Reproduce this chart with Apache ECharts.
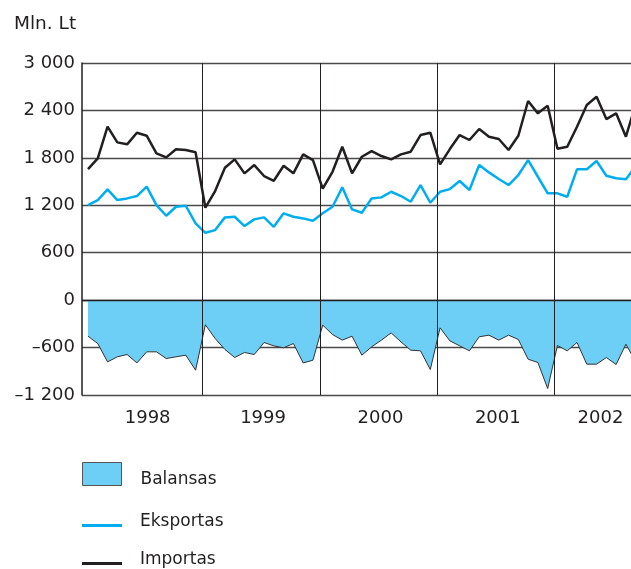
<!DOCTYPE html>
<html>
<head>
<meta charset="utf-8">
<script src="https://cdn.jsdelivr.net/npm/echarts@6/dist/echarts.min.js"></script>
<style>
html,body{margin:0;padding:0;background:#fff;}
#c{width:631px;height:569px;}
</style>
</head>
<body>
<div id="c"></div>
<script>
const years = ['1998', '1999', '2000', '2001', '2002'];
const months = [];
for (const y of years) for (let m = 1; m <= 12; m++) months.push(y + '-' + String(m).padStart(2, '0'));
months.length = 57; // Jan 1998 – Sep 2002

const eksportas = [
  1203, 1266, 1401, 1266, 1287, 1317, 1435, 1203, 1068, 1182, 1194, 971,
  852, 886, 1047, 1055, 937, 1022, 1047, 928, 1098, 1055, 1034, 1004,
  1100, 1182, 1427, 1148, 1106, 1287, 1300, 1371, 1317, 1245, 1456, 1232,
  1371, 1405, 1507, 1393, 1709, 1616, 1532, 1456, 1583, 1772, 1561, 1351,
  1351, 1308, 1655, 1655, 1760, 1574, 1541, 1528, 1700
];
const importas = [
  1658, 1794, 2194, 1996, 1971, 2118, 2080, 1857, 1806, 1908, 1899, 1870,
  1169, 1380, 1675, 1781, 1604, 1709, 1570, 1510, 1700, 1604, 1844, 1772,
  1410, 1624, 1941, 1604, 1814, 1886, 1823, 1781, 1844, 1878, 2089, 2118,
  1718, 1911, 2089, 2026, 2165, 2068, 2038, 1899, 2080, 2519, 2363, 2460,
  1915, 1941, 2194, 2469, 2574, 2291, 2363, 2068, 2480
];
const balansas = [
  -456, -549, -781, -717, -688, -794, -654, -654, -739, -717, -696, -886,
  -312, -485, -624, -726, -662, -688, -536, -578, -603, -549, -794, -760,
  -316, -435, -506, -456, -696, -591, -506, -414, -528, -633, -641, -878,
  -350, -515, -578, -641, -464, -443, -506, -443, -498, -747, -789, -1118,
  -574, -641, -536, -810, -810, -726, -814, -557, -780
];
// where each year's label sits, in months from Jan 1998
const yearLabelPos = [6.1, 17.9, 29.9, 41.9, 52.4];

const FONT = '"DejaVu Sans", sans-serif';
const pairs = arr => arr.map((v, i) => [i, v]);
const yearLines = years.slice(1).map((y, i) => ({ xAxis: 12 * (i + 1) - 0.3 }));

const fmtY = v => {
  const s = String(Math.abs(v)).replace(/\B(?=(\d{3})+(?!\d))/g, ' ');
  return (v < 0 ? '\u2013' : '') + s;
};
const yearOf = v => {
  let best = 0;
  yearLabelPos.forEach((p, i) => { if (Math.abs(p - v) < Math.abs(yearLabelPos[best] - v)) best = i; });
  return years[best];
};

// legend icons: the drawn part sits in a taller box so the label lines up like the original
const boxIcon = 'path://M0,0H39V23H0Z M0,35L0.01,35Z';
const lineIcon = 'path://M0,0L0.01,0Z M0,10H40V13H0Z M0,16L0.01,16Z';
const legendText = { fontFamily: FONT, fontSize: 17, color: '#231f20', lineHeight: 16 };

const chart = echarts.init(document.getElementById('c'), null, { renderer: 'canvas' });
chart.setOption({
  animation: false,
  backgroundColor: '#ffffff',
  title: {
    text: 'Mln. Lt', left: 9, top: 10,
    textStyle: { fontFamily: FONT, fontSize: 18.5, fontWeight: 'normal', color: '#231f20' }
  },
  grid: { left: 82, right: 0, top: 63, bottom: 174 },
  xAxis: {
    type: 'value', min: -0.613, max: 55.52,
    axisLine: { show: false, onZero: false }, axisTick: { show: false }, splitLine: { show: false },
    axisLabel: {
      customValues: yearLabelPos,
      formatter: v => yearOf(v),
      margin: 14, fontFamily: FONT, fontSize: 18, color: '#231f20'
    }
  },
  yAxis: {
    type: 'value', min: -1200, max: 3000, interval: 600,
    axisLine: { show: true, onZero: false, lineStyle: { color: '#231f20', width: 1.5 } },
    axisTick: { show: false },
    splitLine: { show: true, lineStyle: { color: '#4a4a4a', width: 1.4 } },
    axisLabel: { formatter: fmtY, margin: 7, fontFamily: FONT, fontSize: 18, color: '#231f20' }
  },
  legend: [
    {
      data: ['Balansas'], orient: 'vertical', left: 82, top: 462, padding: 0,
      itemWidth: 39, itemHeight: 35, icon: boxIcon,
      itemStyle: { color: '#6dcff6', borderColor: '#555', borderWidth: 1 },
      textStyle: Object.assign({ padding: [0, 0, 0, 14] }, legendText)
    },
    {
      data: ['Eksportas'], orient: 'vertical', left: 82, top: 513.5, padding: 0,
      itemWidth: 40, itemHeight: 16, icon: lineIcon,
      itemStyle: { color: '#00aeef', borderWidth: 0 },
      textStyle: Object.assign({ padding: [0, 0, 0, 13] }, legendText)
    },
    {
      data: ['Importas'], orient: 'vertical', left: 82, top: 551.5, padding: 0,
      itemWidth: 40, itemHeight: 16, icon: lineIcon,
      itemStyle: { color: '#231f20', borderWidth: 0 },
      textStyle: Object.assign({ padding: [0, 0, 0, 13] }, legendText)
    }
  ],
  series: [
    {
      name: 'Balansas', type: 'line', data: pairs(balansas), symbol: 'none',
      lineStyle: { color: '#333', width: 1 },
      itemStyle: { color: '#6dcff6' },
      areaStyle: { color: '#6dcff6', opacity: 1 },
      z: 2
    },
    {
      name: 'Eksportas', type: 'line', data: pairs(eksportas), symbol: 'none',
      lineStyle: { color: '#00aeef', width: 2.5 },
      itemStyle: { color: '#00aeef' },
      z: 3
    },
    {
      name: 'Importas', type: 'line', data: pairs(importas), symbol: 'none',
      lineStyle: { color: '#231f20', width: 2.5 },
      itemStyle: { color: '#231f20' },
      z: 4,
      markLine: {
        silent: true, symbol: 'none', label: { show: false },
        lineStyle: { color: '#231f20', width: 1, type: 'solid' },
        data: yearLines.concat([{ yAxis: 0, lineStyle: { width: 1.4 } }])
      }
    }
  ]
});
</script>
</body>
</html>
